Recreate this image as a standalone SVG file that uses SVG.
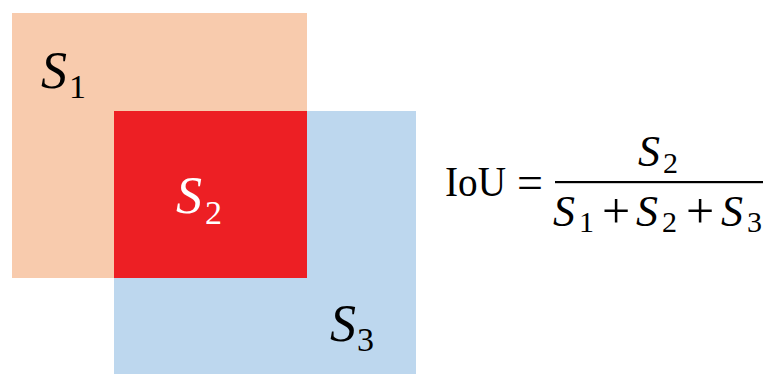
<svg xmlns="http://www.w3.org/2000/svg" width="765" height="374" viewBox="0 0 765 374">
<style>
.m{font-family:"Liberation Serif","DejaVu Serif",serif;font-style:italic;}
.r{font-family:"Liberation Serif","DejaVu Serif",serif;font-style:normal;}
</style>
<rect width="765" height="374" fill="#ffffff"/>
<g id="s1"><rect x="12" y="13" width="295" height="265" fill="#F8CBAD"/></g>
<g id="s3"><rect x="114" y="111" width="302" height="263" fill="#BDD7EE"/></g>
<g id="s2"><rect x="114" y="111" width="193" height="167" fill="#ED1F24"/></g>
<g id="labels">
<text class="m" x="41" y="88" font-size="52" fill="#000">S</text><text class="r" x="69" y="98" font-size="34" fill="#000">1</text>
<text class="m" x="176" y="213" font-size="52" fill="#fff">S</text><text class="r" x="205" y="224" font-size="34" fill="#fff">2</text>
<text class="m" x="330" y="341" font-size="52" fill="#000">S</text><text class="r" x="357" y="351" font-size="34" fill="#000">3</text>
</g>
<g id="formula" fill="#000">
<text class="r" x="445" y="196" font-size="42" textLength="61" lengthAdjust="spacingAndGlyphs">IoU</text>
<text class="r" x="530" y="198" font-size="46" text-anchor="middle">=</text>
<rect x="555" y="181" width="208" height="2.2"/>
<text class="m" x="638" y="166" font-size="44">S</text><text class="r" x="663" y="173" font-size="30">2</text>
<text class="m" x="553" y="226" font-size="44">S</text><text class="r" x="579" y="232" font-size="30">1</text>
<text class="r" x="616" y="228" font-size="50" text-anchor="middle">+</text>
<text class="m" x="636" y="226" font-size="44">S</text><text class="r" x="662" y="232" font-size="30">2</text>
<text class="r" x="700" y="228" font-size="50" text-anchor="middle">+</text>
<text class="m" x="721" y="226" font-size="44">S</text><text class="r" x="747" y="232" font-size="30">3</text>
</g>
</svg>
